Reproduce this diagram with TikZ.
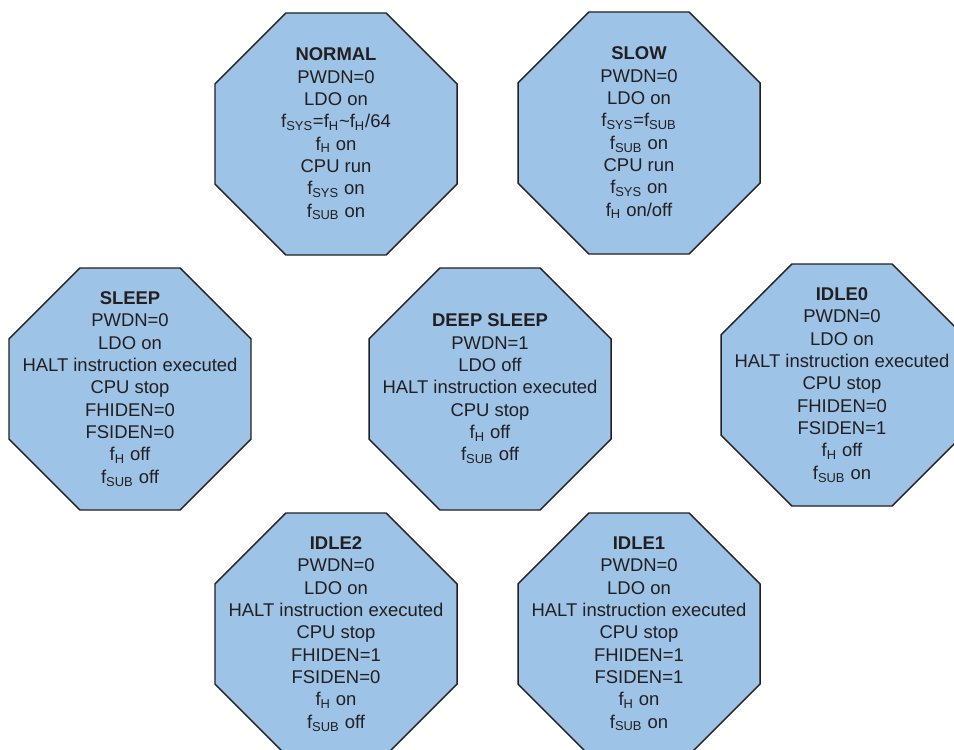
\documentclass[tikz,border=0pt]{standalone}
\usepackage{fontspec}
\setmainfont{Liberation Sans}
\usepackage{xcolor}
\usetikzlibrary{shapes.geometric}
\definecolor{octfill}{RGB}{157,195,230}
\definecolor{octline}{RGB}{35,31,32}

\begin{document}
\begin{tikzpicture}[x=0.02cm,y=-0.02cm,
    stateoct/.style={regular polygon,regular polygon sides=8,minimum size=5.24cm,inner sep=0pt,draw=octline,fill=octfill,line width=0.85pt},
    statetext/.style={align=center,text=octline,inner sep=0pt,font=\fontsize{10.5}{12.7}\selectfont}]
    \useasboundingbox (0,0) rectangle (954,750);
            \node[stateoct] (normal) at (336,134) {};
            \node[statetext] (normaltxt) at (normal.center) {\textbf{NORMAL}\\PWDN=0\\LDO on\\f\textsubscript{SYS}=f\textsubscript{H}\textasciitilde f\textsubscript{H}/64\\f\textsubscript{H} on\\CPU run\\f\textsubscript{SYS} on\\f\textsubscript{SUB} on};
            \node[stateoct] (slow) at (639,133) {};
            \node[statetext] (slowtxt) at (slow.center) {\textbf{SLOW}\\PWDN=0\\LDO on\\f\textsubscript{SYS}=f\textsubscript{SUB}\\f\textsubscript{SUB} on\\CPU run\\f\textsubscript{SYS} on\\f\textsubscript{H} on/off};
            \node[stateoct] (sleep) at (130,389) {};
            \node[statetext] (sleeptxt) at (sleep.center) {\textbf{SLEEP}\\PWDN=0\\LDO on\\HALT instruction executed\\CPU stop\\FHIDEN=0\\FSIDEN=0\\f\textsubscript{H} off\\f\textsubscript{SUB} off};
            \node[stateoct] (deepsleep) at (490,389) {};
            \node[statetext] (deepsleeptxt) at (deepsleep.center) {\textbf{DEEP SLEEP}\\PWDN=1\\LDO off\\HALT instruction executed\\CPU stop\\f\textsubscript{H} off\\f\textsubscript{SUB} off};
            \node[stateoct] (idlezero) at (842,385) {};
            \node[statetext] (idlezerotxt) at (idlezero.center) {\textbf{IDLE0}\\PWDN=0\\LDO on\\HALT instruction executed\\CPU stop\\FHIDEN=0\\FSIDEN=1\\f\textsubscript{H} off\\f\textsubscript{SUB} on};
            \node[stateoct] (idletwo) at (336,634) {};
            \node[statetext] (idletwotxt) at (idletwo.center) {\textbf{IDLE2}\\PWDN=0\\LDO on\\HALT instruction executed\\CPU stop\\FHIDEN=1\\FSIDEN=0\\f\textsubscript{H} on\\f\textsubscript{SUB} off};
            \node[stateoct] (idleone) at (639,634) {};
            \node[statetext] (idleonetxt) at (idleone.center) {\textbf{IDLE1}\\PWDN=0\\LDO on\\HALT instruction executed\\CPU stop\\FHIDEN=1\\FSIDEN=1\\f\textsubscript{H} on\\f\textsubscript{SUB} on};
        \end{tikzpicture}
\end{document}
